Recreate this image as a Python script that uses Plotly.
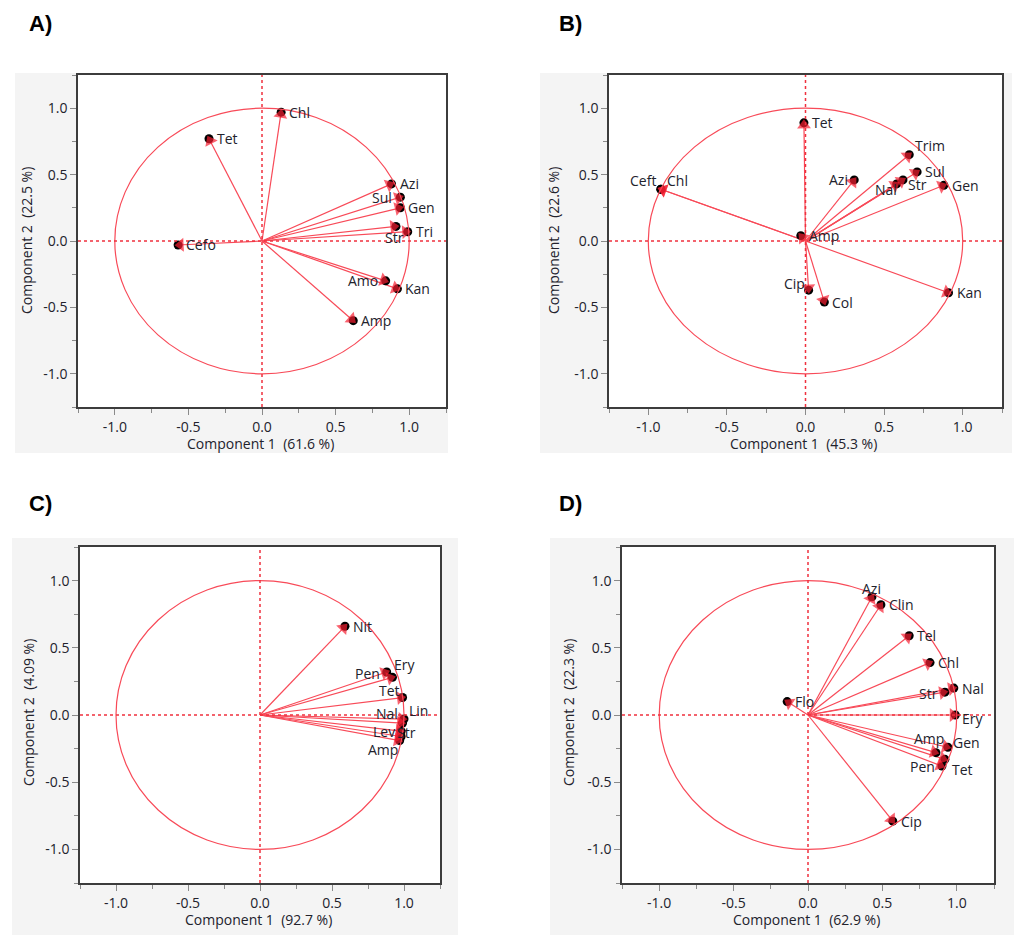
import plotly.graph_objects as go

# ---------------- data ----------------
NAMES_A = ["Chl", "Tet", "Azi", "Sul", "Gen", "Str", "Tri", "Cefo", "Amo", "Kan", "Amp"]
PC1_A = [0.13, -0.36, 0.88, 0.94, 0.94, 0.91, 0.99, -0.57, 0.84, 0.92, 0.62]
PC2_A = [0.97, 0.77, 0.43, 0.33, 0.25, 0.11, 0.07, -0.03, -0.30, -0.36, -0.60]

NAMES_B = ["Tet", "Trim", "Sul", "Str", "Nal", "Gen", "Azi", "Ceft", "Chl", "Amp", "Cip", "Col", "Kan"]
PC1_B = [-0.01, 0.66, 0.71, 0.62, 0.58, 0.88, 0.31, -0.92, -0.92, -0.03, 0.02, 0.12, 0.91]
PC2_B = [0.89, 0.65, 0.52, 0.46, 0.43, 0.42, 0.46, 0.39, 0.39, 0.04, -0.37, -0.46, -0.39]

NAMES_C = ["Nit", "Pen", "Ery", "Tet", "Lin", "Nal", "Lev", "Str", "Amp"]
PC1_C = [0.59, 0.88, 0.92, 0.99, 1.00, 0.99, 0.98, 0.98, 0.97]
PC2_C = [0.66, 0.32, 0.28, 0.13, -0.03, -0.06, -0.12, -0.16, -0.19]

NAMES_D = ["Azi", "Clin", "Tel", "Chl", "Nal", "Str", "Ery", "Flo", "Amp", "Gen", "Tet", "Pen", "Cip"]
PC1_D = [0.43, 0.49, 0.68, 0.82, 0.98, 0.92, 0.99, -0.14, 0.86, 0.94, 0.92, 0.90, 0.57]
PC2_D = [0.88, 0.82, 0.59, 0.39, 0.20, 0.17, 0.00, 0.10, -0.28, -0.24, -0.33, -0.38, -0.79]

VAR1 = ["61.6", "45.3", "92.7", "62.9"]
VAR2 = ["22.5", "22.6", "4.09", "22.3"]
PANEL_TAGS = ["A)", "B)", "C)", "D)"]

TICK_VALS = [-1.0, -0.5, 0.0, 0.5, 1.0]
TICK_TEXT = ["-1.0", "-0.5", "0.0", "0.5", "1.0"]

# ---------------- styles ----------------
# label placement: name -> (xanchor, xshift, yshift)
R = ("left", 6, 0)
L = ("right", -6, 0)
LAB_A = {"Chl": R, "Tet": R, "Azi": R, "Sul": L, "Gen": R, "Str": ("center", -1, -11),
         "Tri": R, "Cefo": R, "Amo": L, "Kan": R, "Amp": R}
LAB_B = {"Tet": R, "Trim": ("left", 4, 9), "Sul": R, "Str": ("left", 3, -5), "Nal": ("right", 2, -6),
         "Gen": R, "Azi": ("right", -4, 0), "Ceft": ("right", -3, 9), "Chl": ("left", 4, 9),
         "Amp": R, "Cip": ("right", -2, 7), "Col": R, "Kan": R}
LAB_C = {"Nit": R, "Pen": ("right", -5, -2), "Ery": ("left", 0, 13), "Tet": ("right", -1, 7),
         "Lin": ("left", 3, 9), "Nal": ("right", -3, 10), "Lev": ("right", -4, 0),
         "Str": ("left", -6, 4), "Amp": ("right", 0, -9)}
LAB_D = {"Azi": ("center", 0, 8), "Clin": R, "Tel": R, "Chl": R, "Nal": R, "Str": ("right", -5, -1),
         "Ery": ("left", 5, -3), "Flo": R, "Amp": ("center", -7, 14), "Gen": ("left", 3, 5),
         "Tet": ("left", 5, -10), "Pen": ("right", -5, 0), "Cip": R}

PANELS = [
    (NAMES_A, PC1_A, PC2_A, LAB_A),
    (NAMES_B, PC1_B, PC2_B, LAB_B),
    (NAMES_C, PC1_C, PC2_C, LAB_C),
    (NAMES_D, PC1_D, PC2_D, LAB_D),
]

W, H = 1014, 935
# plot frames in pixels (left, right, top, bottom)
FRAMES = [(78, 446, 75, 407), (609, 1002, 75, 407), (80, 440, 547, 883), (622, 994, 547, 883)]
# gray panel backgrounds (left, right, top, bottom)
BGS = [(15, 448, 73, 453), (540, 1012, 73, 453), (12, 458, 538, 935), (550, 1014, 538, 935)]
TAG_POS = [(27, 23), (557, 23), (27, 503), (557, 503)]
YTITLE_POS = [(26, 241), (553, 241), (28, 713), (568, 713)]
XTITLE_POS = [(260, 443), (803, 443), (258, 919), (806, 919)]

LINE_RED = "#f84a58"
HEAD_RED = "#f71e30"
FONT = "Open Sans"
TXT = "#22222c"

fig = go.Figure()
shapes = []
annotations = []

def px2paper_x(p):
    return p / W

def px2paper_y(p):
    return 1 - p / H

for i, (names, xs, ys, lab) in enumerate(PANELS):
    n = "" if i == 0 else str(i + 1)
    xa, ya = "x" + n, "y" + n
    l, r, t, b = FRAMES[i]
    axis_common = dict(
        range=[-1.25, 1.25], tickvals=TICK_VALS, ticktext=TICK_TEXT,
        ticks="outside", ticklen=6, tickcolor="#8a8a8a", tickwidth=1,
        showgrid=False, zeroline=False, showline=True, linecolor="#3c3c3c",
        linewidth=1.5, mirror=True, tickfont=dict(family=FONT, size=14, color=TXT),
        minor=dict(ticks="outside", ticklen=4, dtick=0.25, tick0=0, tickcolor="#8a8a8a", showgrid=False),
        fixedrange=True,
    )
    fig.update_layout(**{
        ("xaxis" + n): dict(domain=[px2paper_x(l), px2paper_x(r)], anchor=ya, **axis_common),
        ("yaxis" + n): dict(domain=[px2paper_y(b), px2paper_y(t)], anchor=xa, **axis_common),
    })

    # gray background behind panel
    bl, br, bt, bb = BGS[i]
    shapes.append(dict(type="rect", xref="paper", yref="paper", layer="below",
                       x0=px2paper_x(bl), x1=px2paper_x(br), y0=px2paper_y(bb), y1=px2paper_y(bt),
                       fillcolor="#f4f4f4", line=dict(width=0)))
    # white plot area
    shapes.append(dict(type="rect", xref="paper", yref="paper", layer="below",
                       x0=px2paper_x(l), x1=px2paper_x(r), y0=px2paper_y(b), y1=px2paper_y(t),
                       fillcolor="white", line=dict(width=0)))
    # unit circle
    shapes.append(dict(type="circle", xref=xa, yref=ya, x0=-1, y0=-1, x1=1, y1=1,
                       line=dict(color=LINE_RED, width=1.2), layer="above"))
    # zero reference lines
    shapes.append(dict(type="line", xref=xa, yref=ya + " domain", x0=0, x1=0, y0=0, y1=1,
                       line=dict(color="#f0303e", width=1.5, dash="dot")))
    shapes.append(dict(type="line", xref=xa + " domain", yref=ya, x0=0, x1=1, y0=0, y1=0,
                       line=dict(color="#f0303e", width=1.5, dash="dot")))

    # labels
    for name, xv, yv in zip(names, xs, ys):
        anc, dx, dy = lab[name]
        annotations.append(dict(x=xv, y=yv, xref=xa, yref=ya, text=name, showarrow=False,
                                xanchor=anc, yanchor="middle", xshift=dx, yshift=dy,
                                font=dict(family=FONT, size=14, color=TXT)))

    # vector lines from origin
    seg_x, seg_y = [], []
    for xv, yv in zip(xs, ys):
        seg_x += [0, xv, None]
        seg_y += [0, yv, None]
    fig.add_trace(go.Scatter(x=seg_x, y=seg_y, xaxis=xa, yaxis=ya, mode="lines",
                             line=dict(color=LINE_RED, width=1.2), hoverinfo="skip", showlegend=False))
    # black end dots
    fig.add_trace(go.Scatter(x=xs, y=ys, xaxis=xa, yaxis=ya, mode="markers",
                             marker=dict(color="black", size=9), hoverinfo="skip", showlegend=False))
    # red arrowheads oriented along each vector
    hx, hy, hs = [], [], []
    for xv, yv in zip(xs, ys):
        hx += [0, xv]
        hy += [0, yv]
        hs += [0, 12]
    fig.add_trace(go.Scatter(x=hx, y=hy, xaxis=xa, yaxis=ya, mode="markers",
                             marker=dict(symbol="triangle-up", size=hs, color=HEAD_RED,
                                         angleref="previous", standoff=2.5, line=dict(width=0)),
                             hoverinfo="skip", showlegend=False))

    # panel tag
    tx, ty = TAG_POS[i]
    annotations.append(dict(x=px2paper_x(tx), y=px2paper_y(ty), xref="paper", yref="paper",
                            text="<b>" + PANEL_TAGS[i] + "</b>", showarrow=False,
                            xanchor="left", yanchor="middle",
                            font=dict(family="Liberation Sans", size=22, color="black")))
    # axis titles
    yx, yy = YTITLE_POS[i]
    annotations.append(dict(x=px2paper_x(yx), y=px2paper_y(yy), xref="paper", yref="paper",
                            text="Component 2  (" + VAR2[i] + " %)", textangle=-90, showarrow=False,
                            xanchor="center", yanchor="middle",
                            font=dict(family=FONT, size=14, color=TXT)))
    xx, xy = XTITLE_POS[i]
    annotations.append(dict(x=px2paper_x(xx), y=px2paper_y(xy), xref="paper", yref="paper",
                            text="Component 1  (" + VAR1[i] + " %)", showarrow=False,
                            xanchor="center", yanchor="middle",
                            font=dict(family=FONT, size=14, color=TXT)))

fig.update_layout(width=W, height=H, margin=dict(l=0, r=0, t=0, b=0),
                  paper_bgcolor="white", plot_bgcolor="rgba(0,0,0,0)",
                  shapes=shapes, annotations=annotations, showlegend=False)

fig.write_html("out.html", config={"displayModeBar": False},
               post_script="document.body.style.margin='0';document.body.style.overflow='hidden';")
